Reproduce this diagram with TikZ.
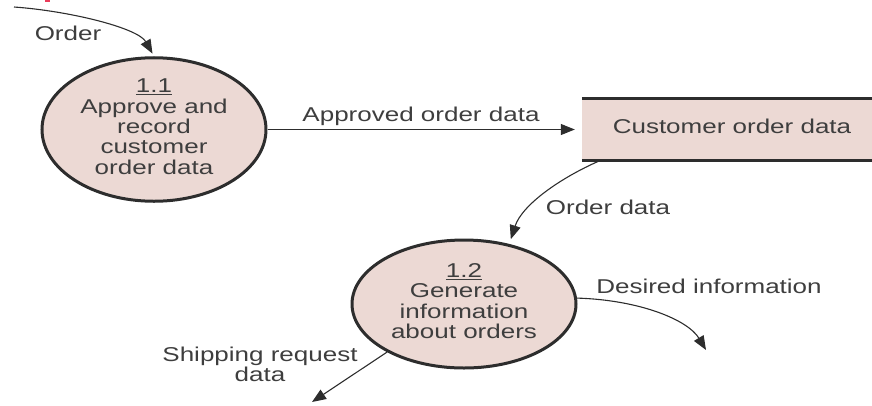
\documentclass[tikz,border=0pt]{standalone}
\usepackage{fontspec}
\setmainfont{Liberation Sans}
\usetikzlibrary{arrows.meta,shapes.geometric,calc}
\definecolor{procfill}{RGB}{236,217,212}
\definecolor{ink}{RGB}{45,45,45}
\definecolor{txt}{RGB}{62,62,62}
\definecolor{redmark}{RGB}{235,60,90}
\newcommand{\wtxt}[1]{\scalebox{1.3}[1]{\begin{tabular}{@{}c@{}}#1\end{tabular}}}
\begin{document}
\begin{tikzpicture}[x=1pt,y=-1pt,
  proc/.style={ellipse, draw=ink, line width=3pt, fill=procfill, inner sep=0pt,
    minimum width=224pt, minimum height=134pt, text=txt, font=\fontsize{20}{20}\selectfont},
  storebox/.style={rectangle, fill=procfill, inner sep=0pt, minimum width=300pt,
    minimum height=62pt, text=txt, font=\fontsize{20}{20}\selectfont},
  lbl/.style={text=txt, font=\fontsize{20}{20}\selectfont, inner sep=0pt},
  flow/.style={draw=ink, line width=1.1pt, -{Triangle[length=14pt,width=11pt]}},
  bar/.style={draw=ink, line width=3.5pt}]
\useasboundingbox (0,0) rectangle (872,405);
\fill[redmark] (45,0) rectangle (50,1.5);

% processes and store
\node[proc] (c11) at (154,129.5) {\wtxt{\underline{1.1}\\Approve and\\record\\customer\\order data}};
\node[proc, minimum height=128pt] (c12) at (464,304) {\wtxt{\underline{1.2}\\Generate\\information\\about orders}};
\node[storebox] (store) at (732,129.5) {\wtxt{Customer order data}};
\draw[bar] (store.north west) -- (store.north east);
\draw[bar] (store.south west) -- (store.south east);

% free ends
\coordinate (ostart) at (14,7);
\coordinate (dinfo) at (706,350);
\coordinate (ship) at (312,402);

% flows
\draw[flow, shorten >=3pt] (ostart) .. controls (70,11) and (138,28) .. (c11.north);
\draw[flow, shorten >=7pt] (c11.east) -- (store.west);
\draw[flow, shorten >=5pt] ($(store.south west)+(18,0)$) .. controls (560,178) and (522,205) .. (c12.53);
\draw[flow] (c12.3) .. controls (640,300) and (688,320) .. (dinfo);
\draw[flow] (c12.212) -- (ship);

% labels
\node[lbl] (lorder) at (68,36) {\wtxt{Order}};
\node[lbl] (lappr) at (421,117) {\wtxt{Approved order data}};
\node[lbl] (lodata) at (608,210) {\wtxt{Order data}};
\node[lbl] (ldes) at (709,289) {\wtxt{Desired information}};
\node[lbl] (lship) at (260,367) {\wtxt{Shipping request\\data}};
\end{tikzpicture}
\end{document}
